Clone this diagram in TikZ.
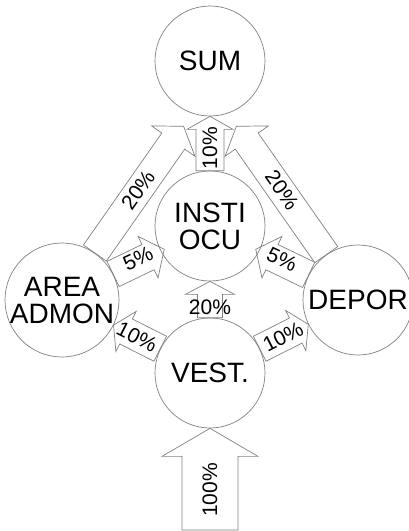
\documentclass[tikz,border=0pt]{standalone}
\usepackage{fontspec}
\setmainfont{Liberation Sans}
\usetikzlibrary{calc}

\definecolor{linegray}{gray}{0.5}

\tikzset{
  room/.style={circle, draw=linegray, line width=0.7pt, minimum size=110pt,
    inner sep=0pt, align=center, font=\fontsize{28}{27}\selectfont},
  flowline/.style={draw=linegray, line width=0.7pt, line join=miter},
  pct/.style={font=\fontsize{21}{21}\selectfont, inner sep=0pt},
}

% Block arrow from #2 (tail) to #3 (tip):
% #4 half shaft width, #5 half head width, #6 head length
\newcommand\flowarrow[6][]{%
  \coordinate (fa-t) at (#2);
  \coordinate (fa-p) at (#3);
  \coordinate (fa-h) at ($(fa-p)!#6!(fa-t)$);
  \draw[flowline,#1]
    ($(fa-t)!#4!90:(fa-p)$) -- ($(fa-h)!#4!90:(fa-p)$) --
    ($(fa-h)!#5!90:(fa-p)$) -- (fa-p) --
    ($(fa-h)!#5!-90:(fa-p)$) -- ($(fa-h)!#4!-90:(fa-p)$) --
    ($(fa-t)!#4!-90:(fa-p)$) -- cycle;
}

\begin{document}
\begin{tikzpicture}[x=1pt, y=-1pt]
  \useasboundingbox (0,0) rectangle (409,531);

  % rooms
  \node[room] (sum)   at (210,61)  {SUM};
  \node[room] (insti) at (210,226) {INSTI\\OCU};
  \node[room] (area)  at (62,300)  {AREA\\ADMON};
  \node[room] (depor) at (358,300) {DEPOR};
  \node[room] (vest)  at (210,373) {VEST.};

  % entry
  \coordinate (entry) at (210,530);

  % flows
  \flowarrow{entry}{vest.south}{28pt}{48pt}{28pt}
  \flowarrow{vest.north}{insti.south}{12.5pt}{24.5pt}{13pt}
  \flowarrow{insti.north}{sum.south}{14pt}{23pt}{13pt}
  \flowarrow{area.55}{$(area.center)!212pt!(area.55)$}{14pt}{26.5pt}{18pt}
  \flowarrow{depor.125}{$(depor.center)!212pt!(depor.125)$}{14pt}{26.5pt}{18pt}
  \flowarrow{area.27}{$(insti.207)!4pt!(insti.center)$}{14pt}{23pt}{18pt}
  \flowarrow{depor.153}{$(insti.333)!4pt!(insti.center)$}{14pt}{23pt}{18pt}
  \flowarrow{vest.154}{area.334}{14pt}{22.5pt}{14pt}
  \flowarrow{vest.26}{depor.206}{14pt}{22.5pt}{14pt}

  % shares
  \node[pct, rotate=90]  (p100)  at (210,490) {100\%};
  \node[pct]             (p20v)  at (210,307) {20\%};
  \node[pct, rotate=90]  (p10v)  at (210,148) {10\%};
  \node[pct, rotate=55]  (p20l)  at (138,190) {20\%};
  \node[pct, rotate=-55] (p20r)  at (282,190) {20\%};
  \node[pct, rotate=25]  (p5l)   at (138,259) {5\%};
  \node[pct, rotate=-25] (p5r)   at (282,259) {5\%};
  \node[pct, rotate=-27] (p10l)  at (137,337) {10\%};
  \node[pct, rotate=27]  (p10r)  at (283,337) {10\%};
\end{tikzpicture}
\end{document}
